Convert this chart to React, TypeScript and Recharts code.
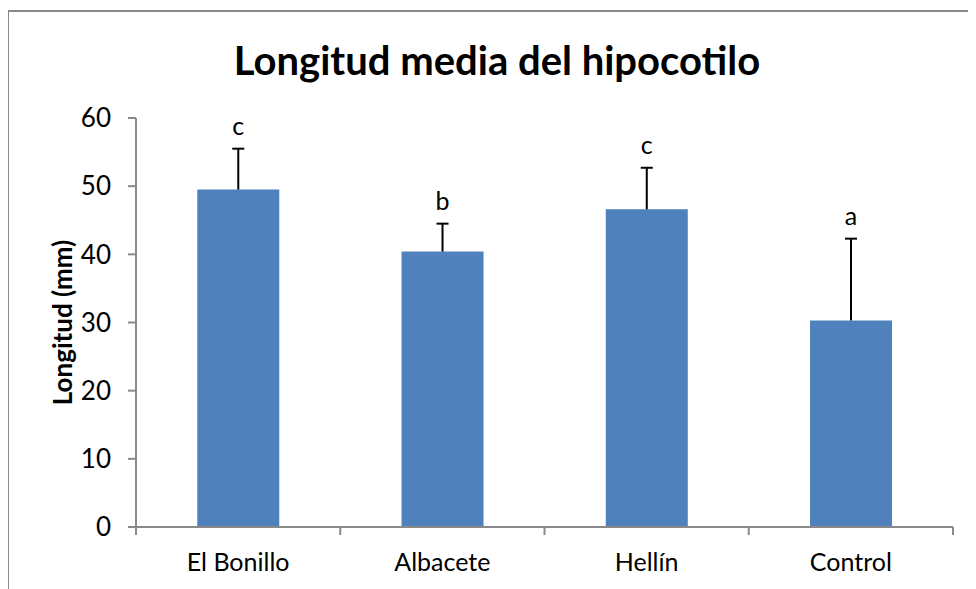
import React from 'react';
import { BarChart, Bar, XAxis, YAxis, LabelList, Label } from 'recharts';

const categories = ['El Bonillo', 'Albacete', 'Hellín', 'Control'];
const means = [49.5, 40.4, 46.6, 30.3];
const errorsUp = [6.0, 4.1, 6.1, 12.0];
const letters = ['c', 'b', 'c', 'a'];
const yTicks = [0, 10, 20, 30, 40, 50, 60];

const data = categories.map((name, i) => ({
  name,
  mean: means[i],
  letter: letters[i],
}));

const FONT = 'Lato, "Open Sans", sans-serif';
const AXIS = '#898989';

// error bar (upper only) + significance letter, using the bar's own scale
const ErrAndLetter = (props: any) => {
  const { x, y, width, height, index, value } = props;
  const perUnit = value ? height / value : 0;
  const errTop = y - errorsUp[index] * perUnit;
  const cx = x + width / 2;
  return (
    <g>
      <line x1={cx} y1={y} x2={cx} y2={errTop} stroke="#000" strokeWidth={2} />
      <line x1={cx - 6} y1={errTop} x2={cx + 6} y2={errTop} stroke="#000" strokeWidth={2} />
      <text x={cx} y={errTop - 14} textAnchor="middle" fontSize={25} fontFamily={FONT} fill="#000">
        {letters[index]}
      </text>
    </g>
  );
};

// category label plus boundary tick marks between categories
const CatTick = (props: any) => {
  const { x, y, payload, index, visibleTicksCount } = props;
  const half = payload && payload.offset ? payload.offset : 102;
  const top = y - 6;
  return (
    <g>
      <line x1={x - half} y1={top} x2={x - half} y2={top + 8} stroke={AXIS} strokeWidth={2} />
      {index === visibleTicksCount - 1 && (
        <line x1={x + half} y1={top} x2={x + half} y2={top + 8} stroke={AXIS} strokeWidth={2} />
      )}
      <text x={x} y={y + 38} textAnchor="middle" fontSize={25} fontFamily={FONT} fill="#000">
        {payload.value}
      </text>
    </g>
  );
};

const App: React.FC = () => {
  return (
    <div style={{ paddingTop: 2 }}>
      <div
        style={{
          position: 'relative',
          borderTop: `2px solid ${AXIS}`,
          borderLeft: `1px solid ${AXIS}`,
          width: 967,
          height: 577,
          background: '#fff',
        }}
      >
        <div
          style={{
            position: 'absolute',
            left: 0,
            width: 976,
            top: 24,
            textAlign: 'center',
            fontFamily: FONT,
            fontWeight: 'bold',
            fontSize: 40,
            color: '#000',
          }}
        >
          Longitud media del hipocotilo
        </div>
        <BarChart
          width={967}
          height={577}
          data={data}
          margin={{ top: 106, right: 23, left: 67, bottom: 22 }}
          barCategoryGap="30%"
        >
          <XAxis
            dataKey="name"
            axisLine={{ stroke: AXIS, strokeWidth: 2 }}
            tickLine={false}
            height={40}
            tickMargin={0}
            interval={0}
            tick={<CatTick />}
          />
          <YAxis
            domain={[0, 60]}
            ticks={yTicks}
            width={60}
            tickSize={8}
            tickMargin={17}
            axisLine={{ stroke: AXIS, strokeWidth: 2 }}
            tickLine={{ stroke: AXIS, strokeWidth: 2 }}
            tick={{ fill: '#000', fontSize: 26, fontFamily: FONT }}
          >
            <Label
              value="Longitud (mm)"
              angle={-90}
              position="insideLeft"
              offset={0}
              dx={-13}
              style={{ textAnchor: 'middle', fontWeight: 'bold', fontSize: 26, fontFamily: FONT, fill: '#000' }}
            />
          </YAxis>
          <Bar dataKey="mean" fill="#4f81bd" isAnimationActive={false}>
            <LabelList dataKey="mean" content={<ErrAndLetter />} />
          </Bar>
        </BarChart>
      </div>
    </div>
  );
};

export default App;
